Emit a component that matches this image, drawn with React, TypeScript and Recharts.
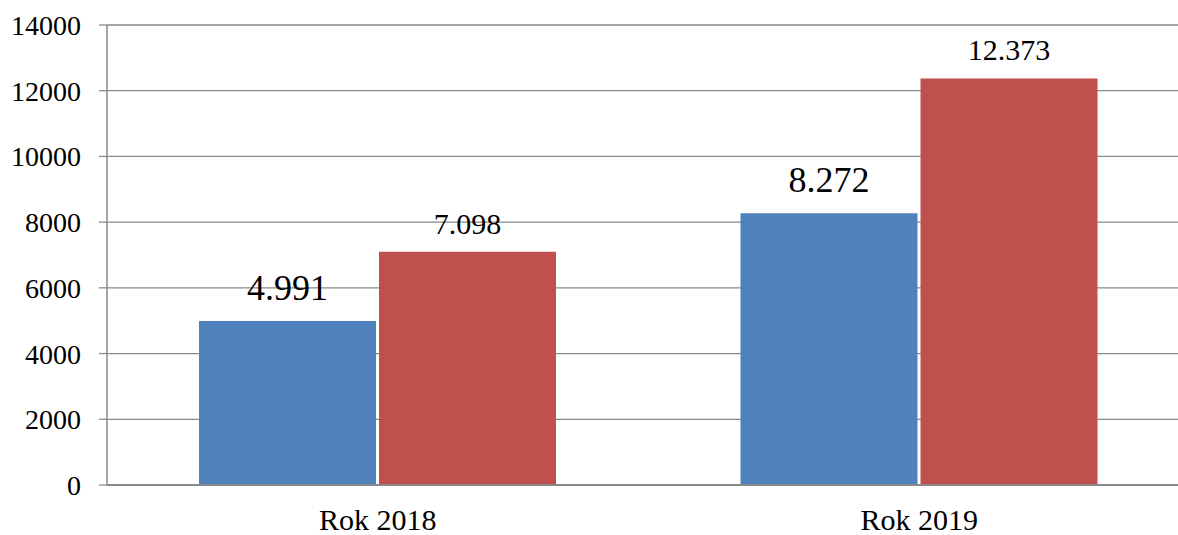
import { BarChart, Bar, XAxis, YAxis, CartesianGrid, LabelList } from "recharts";

const categories = ["Rok 2018", "Rok 2019"];
const blueValues = [4991, 8272];
const redValues = [7098, 12373];
const yTicks = [0, 2000, 4000, 6000, 8000, 10000, 12000, 14000];
const boundaryTicks = [0, 1, 2];

const data = categories.map((name, i) => ({
  name,
  blue: blueValues[i],
  red: redValues[i],
}));

const FONT = "Liberation Serif";
const GRID = "#898989";

// polish thousands separator: 4991 -> 4.991
function fmt(v: number) {
  return String(v).replace(/\B(?=(\d{3})+(?!\d))/g, ".");
}

function makeLabel(fontSize: number, offset: number) {
  return (props: any) => {
    const { x, y, width, value } = props;
    return (
      <text
        x={Number(x) + Number(width) / 2}
        y={Number(y) - offset}
        textAnchor="middle"
        fill="#000"
        fontFamily={FONT}
        fontSize={fontSize}
      >
        {fmt(Number(value))}
      </text>
    );
  };
}

export default function App() {
  return (
    <div
      style={{
        position: "absolute",
        left: 0,
        top: 0,
        width: 1178,
        height: 535,
        overflow: "hidden",
        background: "#fff",
      }}
    >
      <BarChart
        width={1200}
        height={535}
        data={data}
        margin={{ top: 25, right: 10, bottom: 0, left: 0 }}
        barSize={177}
        barGap={3}
      >
        <CartesianGrid horizontal vertical={false} stroke={GRID} strokeWidth={1.3} />
        <XAxis
          xAxisId="b"
          type="number"
          domain={[0, 2]}
          ticks={boundaryTicks}
          tick={false}
          axisLine={false}
          tickLine={{ stroke: GRID, strokeWidth: 1.5 }}
          tickSize={9}
          height={0}
        />
        <XAxis
          dataKey="name"
          axisLine={{ stroke: GRID, strokeWidth: 1.8 }}
          tickLine={false}
          tickSize={6}
          tickMargin={18}
          height={50}
          tick={{ fontSize: 30, fill: "#000", fontFamily: FONT }}
        />
        <YAxis
          width={107}
          domain={[0, 14000]}
          ticks={yTicks}
          interval={0}
          axisLine={{ stroke: GRID, strokeWidth: 1.5 }}
          tickLine={{ stroke: GRID, strokeWidth: 1.3 }}
          tickSize={8}
          tickMargin={18}
          tick={{ fontSize: 28, fill: "#000", fontFamily: FONT }}
        />
        <Bar dataKey="blue" fill="#4F81BD" isAnimationActive={false}>
          <LabelList dataKey="blue" content={makeLabel(36, 21)} />
        </Bar>
        <Bar dataKey="red" fill="#C0504D" isAnimationActive={false}>
          <LabelList dataKey="red" content={makeLabel(30, 18)} />
        </Bar>
      </BarChart>
    </div>
  );
}
